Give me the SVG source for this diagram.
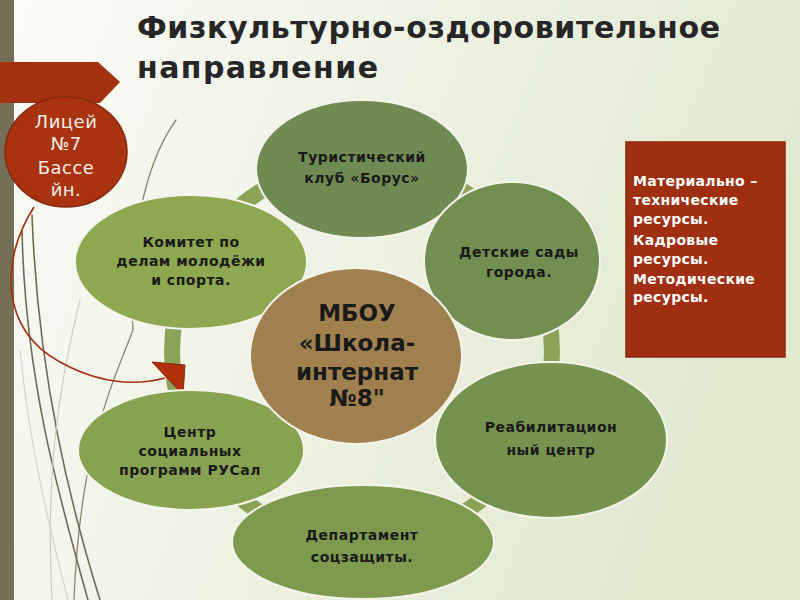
<svg xmlns="http://www.w3.org/2000/svg" width="800" height="600" viewBox="0 0 800 600">
  <defs>
    <linearGradient id="bg" x1="0" y1="0" x2="1" y2="0.3">
      <stop offset="0" stop-color="#fbfbf8"/>
      <stop offset="0.35" stop-color="#f2f5ea"/>
      <stop offset="1" stop-color="#e1e9cf"/>
    </linearGradient>
  </defs>
  <style>
    .title { font-family: "DejaVu Sans", "Liberation Sans", sans-serif; font-weight: bold; font-size: 30px; fill: #262626; }
    .node { stroke: #f4f4ea; stroke-width: 2; }
    .lbl { font-family: "DejaVu Sans", "Liberation Sans", sans-serif; font-size: 14px; font-weight: bold; fill: #1a1a1a; text-anchor: middle; letter-spacing: 0.5px; }
    .ctr { font-family: "DejaVu Sans", "Liberation Sans", sans-serif; font-size: 23px; font-weight: bold; fill: #1a1a1a; text-anchor: middle; }
    .wlbl { font-family: "DejaVu Sans", "Liberation Sans", sans-serif; font-size: 18px; fill: #f5ede6; text-anchor: middle; letter-spacing: 0.5px; }
    .box { font-family: "DejaVu Sans", "Liberation Sans", sans-serif; font-size: 14px; font-weight: bold; fill: #ffffff; letter-spacing: 0.3px; }
    .deco { fill: none; stroke-linecap: round; }
  </style>

  <!-- background -->
  <rect x="0" y="0" width="800" height="600" fill="url(#bg)"/>

  <!-- decorative theme lines -->
  <g id="decor">
    <path class="deco" d="M 176,120 C 140,170 128,260 133,330 C 110,390 80,450 74,600" stroke="#8c8570" stroke-width="1.3"/>
    <path class="deco" d="M 22,230 C 25,380 60,500 88,600" stroke="#706a55" stroke-width="1.6"/>
    <path class="deco" d="M 32,215 C 38,380 72,510 100,600" stroke="#706a55" stroke-width="1.6"/>
    <path class="deco" d="M 80,300 C 60,380 45,470 52,600" stroke="#cfcdbf" stroke-width="1.2"/>
    <path class="deco" d="M 20,350 C 30,450 50,530 68,600" stroke="#d6d4c7" stroke-width="1.2"/>
  </g>

  <!-- left bar -->
  <rect x="0" y="0" width="14" height="600" fill="#756e58"/>

  <!-- red banner -->
  <polygon points="0,62 98,62 120,82 100,103 0,103" fill="#a3300f"/>

  <!-- title -->
  <text class="title" x="137" y="38" textLength="583" lengthAdjust="spacing">Физкультурно-оздоровительное</text>
  <text class="title" x="137" y="78" textLength="241" lengthAdjust="spacing">направление</text>

  <!-- connectors: cycle ring and curved arrow -->
  <g id="connectors">
    <circle cx="362" cy="352" r="190" fill="none" stroke="#8aa356" stroke-width="16"/>
    <path d="M 34,207 C 0,260 0,330 60,362 C 100,384 135,386 165,378" fill="none" stroke="#a3300f" stroke-width="1.6"/>
    <polygon points="152,362 185,365 183,395" fill="#b3300c" stroke="#8a2a10" stroke-width="1"/>
  </g>

  <!-- red circle -->
  <g id="licey">
    <ellipse cx="66" cy="152" rx="61" ry="55" fill="#a9320f" stroke="#86290f" stroke-width="1.5"/>
    <text class="wlbl" x="66" y="128">Лицей</text>
    <text class="wlbl" x="66" y="150">№7</text>
    <text class="wlbl" x="66" y="174">Бассе</text>
    <text class="wlbl" x="66" y="196">йн.</text>
  </g>

  <!-- outer nodes -->
  <g id="turist">
    <ellipse class="node" cx="362" cy="169" rx="106" ry="69" fill="#708a54"/>
    <text class="lbl" x="362" y="162">Туристический</text>
    <text class="lbl" x="362" y="183">клуб «Борус»</text>
  </g>
  <g id="detsad">
    <ellipse class="node" cx="512" cy="261" rx="88" ry="79" fill="#728e51"/>
    <text class="lbl" x="519" y="257">Детские сады</text>
    <text class="lbl" x="519" y="277">города.</text>
  </g>
  <g id="reab">
    <ellipse class="node" cx="551" cy="440" rx="116" ry="78" fill="#76924f"/>
    <text class="lbl" x="551" y="432">Реабилитацион</text>
    <text class="lbl" x="551" y="455">ный центр</text>
  </g>
  <g id="depart">
    <ellipse class="node" cx="363" cy="542" rx="131" ry="57" fill="#7e9a4f"/>
    <text class="lbl" x="362" y="540">Департамент</text>
    <text class="lbl" x="362" y="562">соцзащиты.</text>
  </g>
  <g id="rusal">
    <ellipse class="node" cx="191" cy="450" rx="113" ry="60" fill="#87a250"/>
    <text class="lbl" x="190" y="437">Центр</text>
    <text class="lbl" x="190" y="456">социальных</text>
    <text class="lbl" x="190" y="475">программ РУСал</text>
  </g>
  <g id="komitet">
    <ellipse class="node" cx="191" cy="262" rx="116" ry="67" fill="#8ea751"/>
    <text class="lbl" x="191" y="247">Комитет по</text>
    <text class="lbl" x="191" y="266">делам молодёжи</text>
    <text class="lbl" x="191" y="285">и спорта.</text>
  </g>

  <!-- center node -->
  <g id="mbou">
    <ellipse class="node" cx="356" cy="356" rx="106" ry="88" fill="#a0804e"/>
    <text class="ctr" x="357" y="321">МБОУ</text>
    <text class="ctr" x="357" y="351">«Школа-</text>
    <text class="ctr" x="357" y="380">интернат</text>
    <text class="ctr" x="357" y="406">№8"</text>
  </g>

  <!-- resources box -->
  <g id="resources">
    <rect x="626" y="142" width="159" height="215" fill="#a02e10" stroke="#8a2a10" stroke-width="1.5"/>
    <text class="box" x="633" y="186">Материально –</text>
    <text class="box" x="633" y="205">технические</text>
    <text class="box" x="633" y="224">ресурсы.</text>
    <text class="box" x="633" y="245">Кадровые</text>
    <text class="box" x="633" y="264">ресурсы.</text>
    <text class="box" x="633" y="284">Методические</text>
    <text class="box" x="633" y="302">ресурсы.</text>
  </g>
</svg>
